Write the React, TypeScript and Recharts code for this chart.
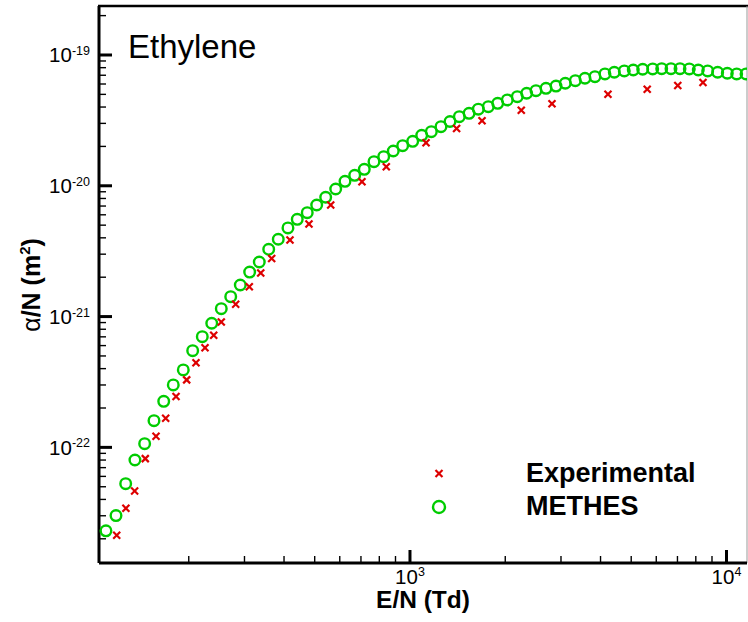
import { ScatterChart, Scatter, XAxis, YAxis, Customized } from "recharts"

// reduced field E/N (Td) and ionization coefficient alpha/N (m^2)
const methesEnergy = [
  109.5, 117.8, 126.4, 135.2, 145.1, 155.3, 166.7, 178.7, 192.2, 205.8,
  220.7, 236.4, 253.4, 271.4, 291.0, 311.5, 334.1, 357.8, 383.6, 411.6,
  440.4, 473.6, 507.3, 541.6, 582.5, 623.3, 668.9, 717.2, 769.6, 826.0,
  885.6, 948.2, 1020, 1089, 1168, 1253, 1338, 1432, 1537, 1644,
  1768, 1893, 2030, 2183, 2337, 2501, 2690, 2893, 3095, 3330,
  3572, 3841, 4131, 4421, 4755, 5076, 5436, 5846, 6242, 6678,
  7131, 7630, 8146, 8721, 9380, 10060, 10770, 11530,
]
const methesAlpha = [
  2.3e-23, 3.01e-23, 5.28e-23, 8.01e-23, 1.067e-22, 1.6e-22, 2.25e-22, 3.0e-22, 3.91e-22, 5.49e-22,
  7.02e-22, 8.89e-22, 1.149e-21, 1.42e-21, 1.744e-21, 2.19e-21, 2.615e-21, 3.27e-21, 3.9e-21, 4.76e-21,
  5.54e-21, 6.23e-21, 7.13e-21, 8.17e-21, 9.45e-21, 1.082e-20, 1.203e-20, 1.337e-20, 1.529e-20, 1.669e-20,
  1.845e-20, 2.026e-20, 2.189e-20, 2.433e-20, 2.592e-20, 2.829e-20, 3.1e-20, 3.375e-20, 3.58e-20, 3.85e-20,
  4.025e-20, 4.27e-20, 4.53e-20, 4.8e-20, 5.1e-20, 5.34e-20, 5.56e-20, 5.79e-20, 6.08e-20, 6.36e-20,
  6.64e-20, 6.83e-20, 7.16e-20, 7.38e-20, 7.55e-20, 7.68e-20, 7.78e-20, 7.82e-20, 7.86e-20, 7.86e-20,
  7.86e-20, 7.82e-20, 7.68e-20, 7.55e-20, 7.38e-20, 7.25e-20, 7.16e-20, 7.16e-20,
]

const expEnergy = [
  118.4, 126.6, 134.9, 145.8, 157.6, 169.1, 182.3, 197.0, 210.8, 225.1,
  239.8, 253.4, 281.4, 310.7, 337.6, 365.6, 417.7, 479.6, 561.7, 705.2,
  841.7, 1124, 1404, 1689, 2247, 2810, 4222, 5617, 7017, 8429,
]
const expAlpha = [
  2.13e-23, 3.42e-23, 4.64e-23, 8.2e-23, 1.216e-22, 1.669e-22, 2.45e-22, 3.28e-22, 4.44e-22, 5.78e-22,
  7.19e-22, 9.09e-22, 1.242e-21, 1.693e-21, 2.154e-21, 2.78e-21, 3.85e-21, 5.11e-21, 7.13e-21, 1.075e-20,
  1.4e-20, 2.136e-20, 2.74e-20, 3.146e-20, 3.78e-20, 4.24e-20, 5.01e-20, 5.48e-20, 5.85e-20, 6.16e-20,
]

const xDecades = [2, 3, 4]
const yDecades = [-23, -22, -21, -20, -19]
const mantissas = [1, 2, 3, 4, 5, 6, 7, 8, 9]

const X_DOMAIN: [number, number] = [104.1, 11610]
const Y_DOMAIN: [number, number] = [1.306e-23, 2.369e-19]

const buildTicks = (decades: number[], [lo, hi]: [number, number]) =>
  decades
    .flatMap((d) => mantissas.map((m) => m * Math.pow(10, d)))
    .filter((v) => v >= lo && v <= hi)

const xTicks = buildTicks(xDecades, X_DOMAIN)
const yTicks = buildTicks(yDecades, Y_DOMAIN)

const methesData = methesEnergy.map((e, i) => ({ e, a: methesAlpha[i] }))
const expData = expEnergy.map((e, i) => ({ e, a: expAlpha[i] }))

const FONT = "'Liberation Sans', Arial, Helvetica, sans-serif"
const GREEN = "#00cc00"
const RED = "#dd0000"

const exponentOf = (v: number) => {
  const l = Math.log10(v)
  const r = Math.round(l)
  return Math.abs(l - r) < 1e-6 ? r : null
}

const YTick = (props: any) => {
  const { x, y, payload } = props
  const exp = exponentOf(payload.value)
  const major = exp !== null
  return (
    <g>
      <line x1={x} x2={x + (major ? 13 : 7)} y1={y} y2={y} stroke="#000" strokeWidth={major ? 3 : 1.4} />
      {major && (
        <text x={x - 9} y={y + 7.5} textAnchor="end" fontFamily={FONT} fontSize={20.5} fill="#000">
          10
          <tspan fontSize={12.5} dy={-7.5}>{exp}</tspan>
        </text>
      )}
    </g>
  )
}

const XTick = (props: any) => {
  const { x, y, payload } = props
  const exp = exponentOf(payload.value)
  const major = exp !== null
  return (
    <g>
      <line x1={x} x2={x} y1={y} y2={y - (major ? 13 : 7)} stroke="#000" strokeWidth={major ? 3 : 1.4} />
      {major && (
        <text x={x} y={y + 21} textAnchor="middle" fontFamily={FONT} fontSize={20.5} fill="#000">
          10
          <tspan fontSize={12.5} dy={-8}>{exp}</tspan>
        </text>
      )}
    </g>
  )
}

const circleShape = (p: any) => (
  <circle cx={p.cx} cy={p.cy} r={5.3} fill="none" stroke={GREEN} strokeWidth={2.4} />
)

const crossShape = (p: any) => (
  <g stroke={RED} strokeWidth={2.2}>
    <line x1={p.cx - 3.5} y1={p.cy - 3.5} x2={p.cx + 3.5} y2={p.cy + 3.5} />
    <line x1={p.cx - 3.5} y1={p.cy + 3.5} x2={p.cx + 3.5} y2={p.cy - 3.5} />
  </g>
)

// frame, gas name and legend
const Decorations = () => (
  <g fontFamily={FONT}>
    <line x1={98} x2={748} y1={6} y2={6} stroke="#000" strokeWidth={2.5} />
    <line x1={747} x2={747} y1={6} y2={563} stroke="#999" strokeWidth={1} />
    <text x={128} y={58} fontSize={33} fill="#000">Ethylene</text>
    <text x={40} y={285} fontSize={25} fontWeight="bold" textAnchor="middle" transform="rotate(-90 40 285)" fill="#000">
      <tspan fontWeight="normal">α</tspan>/N (m<tspan fontSize={15} dy={-10}>2</tspan><tspan dy={10}>)</tspan>
    </text>
    <text x={423} y={608} fontSize={24.5} fontWeight="bold" textAnchor="middle" fill="#000">E/N (Td)</text>
    {crossShape({ cx: 439, cy: 473.5 })}
    <circle cx={439} cy={507} r={6} fill="none" stroke={GREEN} strokeWidth={2.4} />
    <text x={526} y={482} fontSize={27} fontWeight="bold" fill="#000">Experimental</text>
    <text x={526} y={515} fontSize={27} fontWeight="bold" fill="#000">METHES</text>
  </g>
)

export default function App() {
  return (
    <div style={{ position: "absolute", left: 0, top: 0, background: "#fff" }}>
      <ScatterChart width={748} height={622} margin={{ top: 6, right: 1, bottom: 0, left: 0 }}>
        <XAxis
          dataKey="e"
          type="number"
          scale="log"
          domain={X_DOMAIN}
          allowDataOverflow
          ticks={xTicks}
          interval={0}
          height={59}
          tickSize={0}
          tickMargin={0}
          tickLine={false}
          axisLine={{ stroke: "#000", strokeWidth: 3 }}
          tick={<XTick />}
        />
        <YAxis
          dataKey="a"
          type="number"
          scale="log"
          domain={Y_DOMAIN}
          allowDataOverflow
          ticks={yTicks}
          interval={0}
          width={99}
          tickSize={0}
          tickMargin={0}
          tickLine={false}
          axisLine={{ stroke: "#000", strokeWidth: 3 }}
          tick={<YTick />}
        />
        <Scatter name="METHES" data={methesData} shape={circleShape} isAnimationActive={false} />
        <Scatter name="Experimental" data={expData} shape={crossShape} isAnimationActive={false} />
        <Customized component={Decorations} />
      </ScatterChart>
    </div>
  )
}
